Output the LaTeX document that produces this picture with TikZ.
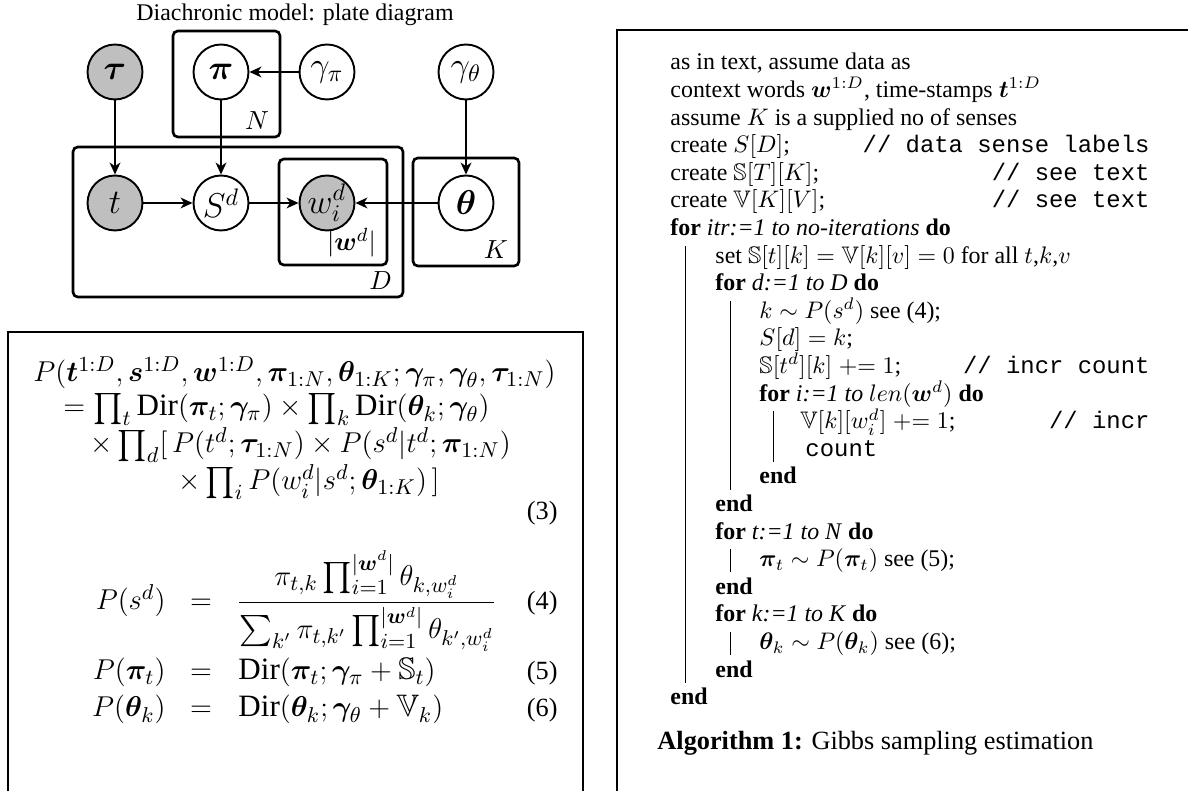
\documentclass[tikz,border=0pt]{standalone}
\usepackage{amsmath,amssymb,bm}
\usepackage{fontspec}
\setmainfont{Liberation Serif}
\setmonofont{Liberation Mono}
\usetikzlibrary{arrows.meta,positioning,fit}
\tikzset{
  latent/.style={circle,draw,line width=0.8pt,minimum size=23pt,inner sep=0pt,fill=white,font=\fontsize{14}{16}\selectfont},
  obs/.style={latent,fill=gray!50},
  plate/.style={draw,line width=1.1pt,rounded corners=2pt,inner sep=0pt},
  platelbl/.style={anchor=south east,inner xsep=5pt,inner ysep=3.5pt,font=\fontsize{11}{13}\selectfont},
  ar/.style={-{Stealth[length=5pt,width=4.5pt,inset=1.5pt]},line width=0.8pt},
  alg/.style={anchor=base west,inner sep=0pt},
  cmt/.style={anchor=base east,inner sep=0pt,font=\ttfamily},
  eqn/.style={anchor=base west,inner sep=0pt,font=\fontsize{13}{15.5}\selectfont},
  eqno/.style={anchor=base east,inner sep=0pt,font=\fontsize{11}{13}\selectfont},
  eqlhs/.style={anchor=base east,inner sep=0pt,font=\fontsize{13}{15.5}\selectfont},
  eqrel/.style={anchor=base,inner sep=0pt,font=\fontsize{13}{15.5}\selectfont},
  vl/.style={line width=0.4pt},
  frame/.style={line width=0.5pt}
}
\newcommand\kw[1]{\textbf{#1}}

\begin{document}
\begin{tikzpicture}[x=0.4184pt,y=-0.4184pt]
\useasboundingbox (0,0) rectangle (1188,791);
% plate diagram
\node (title) at (295,15) {Diachronic model: plate diagram};
\node[plate,fit={(173,31) (280,137)}] (plN) {};
\node[plate,fit={(73,147) (403,297)}] (plD) {};
\node[plate,fit={(279,159) (387,265)}] (plW) {};
\node[plate,fit={(413,158) (519,266)}] (plK) {};
\node[platelbl] at (plN.south east) {$N$};
\node[platelbl] at (plD.south east) {$D$};
\node[platelbl] at (plW.south east) {$|\bm{w}^d|$};
\node[platelbl] at (plK.south east) {$K$};
\node[obs] (tau) at (115,72) {$\bm{\tau}$};
\node[latent] (pi) at (221,72) {$\bm{\pi}$};
\node[latent] (gpi) at (327,72) {$\gamma_\pi$};
\node[latent] (gth) at (466,72) {$\gamma_\theta$};
\node[obs] (t) at (115,203) {$t$};
\node[latent] (s) at (221,203) {$S^d$};
\node[obs] (w) at (327,203) {$w_i^d$};
\node[latent] (th) at (466,203) {$\bm{\theta}$};
\draw[ar] (tau) -- (t);
\draw[ar] (pi) -- (s);
\draw[ar] (gpi) -- (pi);
\draw[ar] (t) -- (s);
\draw[ar] (s) -- (w);
\draw[ar] (th) -- (w);
\draw[ar] (gth) -- (th);

% equations
\draw[frame] (8,791) -- (8,332) -- (583,332) -- (583,791);
\node[eqn] (e1) at (33,382) {$P(\bm{t}^{1:D}, \bm{s}^{1:D}, \bm{w}^{1:D}, \bm{\pi}_{1:N}, \bm{\theta}_{1:K}; \bm{\gamma}_{\pi}, \bm{\gamma}_{\theta}, \bm{\tau}_{1:N})$};
\node[eqn] (e2) at (63,416) {$= \prod_t \mathrm{Dir}(\bm{\pi}_t;\bm{\gamma}_\pi) \times \prod_k \mathrm{Dir}(\bm{\theta}_k;\bm{\gamma}_\theta)$};
\node[eqn] (e3) at (90,453) {$\times \prod_d [\, P(t^d;\bm{\tau}_{1:N}) \times P(s^d|t^d;\bm{\pi}_{1:N})$};
\node[eqn] (e4) at (178,490) {$\times \prod_i P(w_i^d|s^d;\bm{\theta}_{1:K})\, ]$};
\node[eqno] (n3) at (558,520) {(3)};
\node[eqlhs] (l4) at (166,610) {$P(s^d)$};
\node[eqrel] (q4) at (201,610) {$=$};
\node[eqn] (r4) at (236,610) {$\displaystyle \frac{\pi_{t,k}\prod_{i=1}^{|\bm{w}^d|}\theta_{k,w_i^d}}{\sum_{k'}\pi_{t,k'}\prod_{i=1}^{|\bm{w}^d|}\theta_{k',w_i^d}}$};
\node[eqno] (n4) at (558,610) {(4)};
\node[eqlhs] (l5) at (166,680) {$P(\bm{\pi}_t)$};
\node[eqrel] (q5) at (201,680) {$=$};
\node[eqn] (r5) at (238,680) {$\mathrm{Dir}(\bm{\pi}_t;\bm{\gamma}_\pi + \mathbb{S}_t)$};
\node[eqno] (n5) at (558,680) {(5)};
\node[eqlhs] (l6) at (166,717) {$P(\bm{\theta}_k)$};
\node[eqrel] (q6) at (201,717) {$=$};
\node[eqn] (r6) at (238,717) {$\mathrm{Dir}(\bm{\theta}_k;\bm{\gamma}_\theta + \mathbb{V}_k)$};
\node[eqno] (n6) at (558,717) {(6)};

% algorithm
\draw[frame] (1188,30) -- (617,30) -- (617,791);
\node[alg] (a0) at (670,70) {as in text, assume data as};
\node[alg] (a1) at (670,97.6) {context words $\bm{w}^{1:D}$, time-stamps $\bm{t}^{1:D}$};
\node[alg] (a2) at (670,125.2) {assume $K$ is a supplied no of senses};
\node[alg] (a3) at (670,152.8) {create $S[D]$;};
\node[cmt] (c3) at (1150,152.8) {// data sense labels};
\node[alg] (a4) at (670,180.4) {create $\mathbb{S}[T][K]$;};
\node[cmt] (c4) at (1150,180.4) {// see text};
\node[alg] (a5) at (670,208) {create $\mathbb{V}[K][V]$;};
\node[cmt] (c5) at (1150,208) {// see text};
\node[alg] (a6) at (670,235.6) {\kw{for} \textit{itr:=1 to no-iterations} \kw{do}};
\node[alg] (a7) at (715,263.2) {set $\mathbb{S}[t][k] = \mathbb{V}[k][v] = 0$ for all $t$,$k$,$v$};
\node[alg] (a8) at (715,290.8) {\kw{for} \textit{d:=1 to D} \kw{do}};
\node[alg] (a9) at (759,318.4) {$k \sim P(s^d)$ see (4);};
\node[alg] (a10) at (759,346) {$S[d] = k$;};
\node[alg] (a11) at (759,373.6) {$\mathbb{S}[t^d][k] \mathrel{+}= 1$;};
\node[cmt] (c11) at (1150,373.6) {// incr count};
\node[alg] (a12) at (759,401.2) {\kw{for} \textit{i:=1 to $len(\bm{w}^d)$} \kw{do}};
\node[alg] (a13) at (800,428.8) {$\mathbb{V}[k][w_i^d] \mathrel{+}= 1$;};
\node[cmt] (c13) at (1150,428.8) {// incr};
\node[alg,font=\ttfamily] (a14) at (805,456.4) {count};
\node[alg] (a15) at (759,484) {\kw{end}};
\node[alg] (a16) at (715,511.6) {\kw{end}};
\node[alg] (a17) at (715,539.2) {\kw{for} \textit{t:=1 to N} \kw{do}};
\node[alg] (a18) at (759,566.8) {$\bm{\pi}_t \sim P(\bm{\pi}_t)$ see (5);};
\node[alg] (a19) at (715,594.4) {\kw{end}};
\node[alg] (a20) at (715,622) {\kw{for} \textit{k:=1 to K} \kw{do}};
\node[alg] (a21) at (759,649.6) {$\bm{\theta}_k \sim P(\bm{\theta}_k)$ see (6);};
\node[alg] (a22) at (715,677.2) {\kw{end}};
\node[alg] (a23) at (670,704.8) {\kw{end}};
\draw[vl] (685,246) -- (685,683);
\draw[vl] (730,301) -- (730,490);
\draw[vl] (773,411) -- (773,462);
\draw[vl] (730,549) -- (730,572);
\draw[vl] (730,632) -- (730,655);
\node[alg,font=\fontsize{11}{13}\selectfont] (cap) at (657,750) {\kw{Algorithm 1:} Gibbs sampling estimation};
\end{tikzpicture}
\end{document}
